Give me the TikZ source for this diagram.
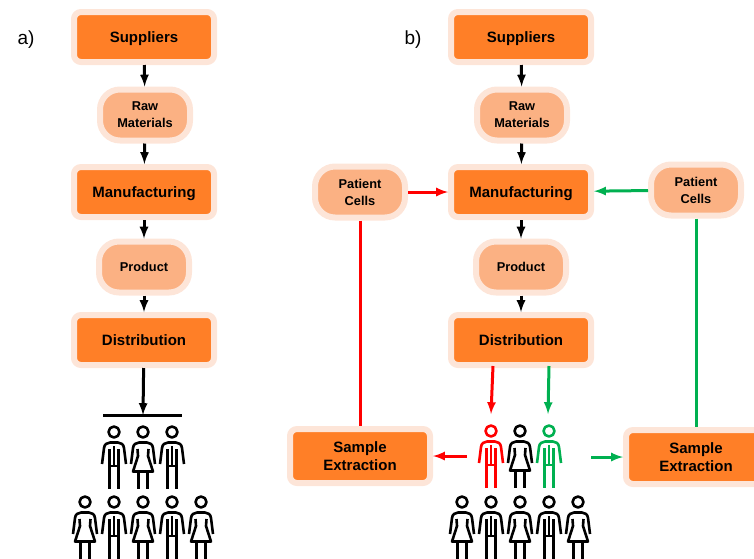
\documentclass[tikz,border=0pt]{standalone}
\usepackage{fontspec}
\setmainfont{Liberation Sans}
\usetikzlibrary{arrows}

\definecolor{boxorange}{HTML}{FF7F27}
\definecolor{softorange}{HTML}{FBB183}
\definecolor{haloorange}{HTML}{FDE5D8}
\definecolor{arrowred}{HTML}{FF0000}
\definecolor{arrowgreen}{HTML}{00B050}

\tikzset{
	mainbox/.style={rectangle,rounded corners=7pt,draw=haloorange,line width=6pt,fill=boxorange,text=black,
		inner sep=0pt,align=center,minimum width=140pt,minimum height=50pt,text depth=0pt,font=\fontsize{15}{18.5}\selectfont\bfseries},
	softbox/.style={rectangle,rounded corners=20pt,draw=haloorange,line width=6pt,fill=softorange,text=black,
		inner sep=0pt,align=center,minimum width=90pt,minimum height=51pt,text depth=0pt,font=\fontsize{12.8}{17}\selectfont\bfseries},
	steplabel/.style={font=\fontsize{19}{22}\selectfont},
	flow/.style={->,>=latex,line width=3pt},
	redflow/.style={flow,color=arrowred},
	greenflow/.style={flow,color=arrowgreen},
	bodyline/.style={line width=2.6pt,line join=round},
	mansign/.pic={
		\draw[bodyline] (0,0) circle (5.5);
		\draw[bodyline] (-12,32) -- (-10,16) .. controls (-9.5,12) and (-7,11) .. (-4,10.5) -- (4,10.5)
			.. controls (7,11) and (9.5,12) .. (10,16) -- (12,32);
		\draw[bodyline] (-4.5,17) -- (-4.5,57) (4.5,17) -- (4.5,57);
		\draw[bodyline] (0,14) -- (0,34) (-4.5,34) -- (4.5,34);
	},
	womansign/.pic={
		\draw[bodyline] (0,0) circle (5.5);
		\draw[bodyline] (-12,32) -- (-10,16) .. controls (-9.5,12) and (-7,11) .. (-4,10.5) -- (4,10.5)
			.. controls (7,11) and (9.5,12) .. (10,16) -- (12,32);
		\draw[bodyline] (-5.5,17) -- (-5,24) -- (-10,39.5) -- (10,39.5) -- (5,24) -- (5.5,17);
		\draw[bodyline] (-4.5,39.5) -- (-4.5,57) (4.5,39.5) -- (4.5,57);
	},
}

\begin{document}
\begin{tikzpicture}[x=1pt,y=-1pt]

	\useasboundingbox (0,0) rectangle (754,558);
	\clip (0,0) rectangle (754,558);

	\node[steplabel] (la) at (26,40)  {a)};
	\node[steplabel] (lb) at (413,40) {b)};

	% left chain
	\node[mainbox] (sa) at (144,37)  {Suppliers};
	\node[softbox] (ra) at (145,115) {Raw\\Materials};
	\node[mainbox] (ma) at (144,192) {Manufacturing};
	\node[softbox] (pa) at (144,267) {Product};
	\node[mainbox] (da) at (144,340) {Distribution};
	\coordinate (ba) at (143,415);
	\coordinate (bal) at (103,415);
	\coordinate (bar) at (182,415);

	\path[flow] (sa) edge (ra)
	            (ra) edge (ma)
	            (ma) edge (pa)
	            (pa) edge (da)
	            (da) edge (ba);
	\draw[line width=3pt] (bal) -- (bar);

	\pic at (114,432) {mansign};
	\pic at (143,432) {womansign};
	\pic at (172,432) {mansign};
	\pic at (85,502)  {womansign};
	\pic at (114,502) {mansign};
	\pic at (143,502) {womansign};
	\pic at (172,502) {mansign};
	\pic at (201,502) {womansign};

	% right chain
	\node[mainbox] (sb) at (521,37)  {Suppliers};
	\node[softbox] (rb) at (522,115) {Raw\\Materials};
	\node[mainbox] (mb) at (521,192) {Manufacturing};
	\node[softbox] (pb) at (521,267) {Product};
	\node[mainbox] (db) at (521,340) {Distribution};

	\path[flow] (sb) edge (rb)
	            (rb) edge (mb)
	            (mb) edge (pb)
	            (pb) edge (db);

	\node[softbox] (cr) at (360,192) {Patient\\Cells};
	\node[softbox] (cg) at (696,190) {Patient\\Cells};
	\node[mainbox,minimum height=54pt] (er) at (360,456) {Sample\\Extraction};
	\node[mainbox,minimum height=54pt] (eg) at (696,457) {Sample\\Extraction};

	\coordinate (tr) at (491,414);
	\coordinate (tg) at (548,414);
	\coordinate (fr) at (493,366);
	\coordinate (fg) at (549,366);
	\coordinate (hr) at (467,456);
	\coordinate (hg) at (591,457);

	\path[redflow] (cr) edge (mb)
	               (fr) edge (tr)
	               (hr) edge (er);
	\path[greenflow] (cg) edge (mb)
	                 (fg) edge (tg)
	                 (hg) edge (eg);
	\draw[line width=3pt,arrowred] (cr) -- (er);
	\draw[line width=3pt,arrowgreen] (cg) -- (eg);

	\pic[color=arrowred]   at (491,431) {mansign};
	\pic                   at (520,431) {womansign};
	\pic[color=arrowgreen] at (549,431) {mansign};
	\pic at (462,502) {womansign};
	\pic at (491,502) {mansign};
	\pic at (520,502) {womansign};
	\pic at (549,502) {mansign};
	\pic at (578,502) {womansign};

\end{tikzpicture}
\end{document}
